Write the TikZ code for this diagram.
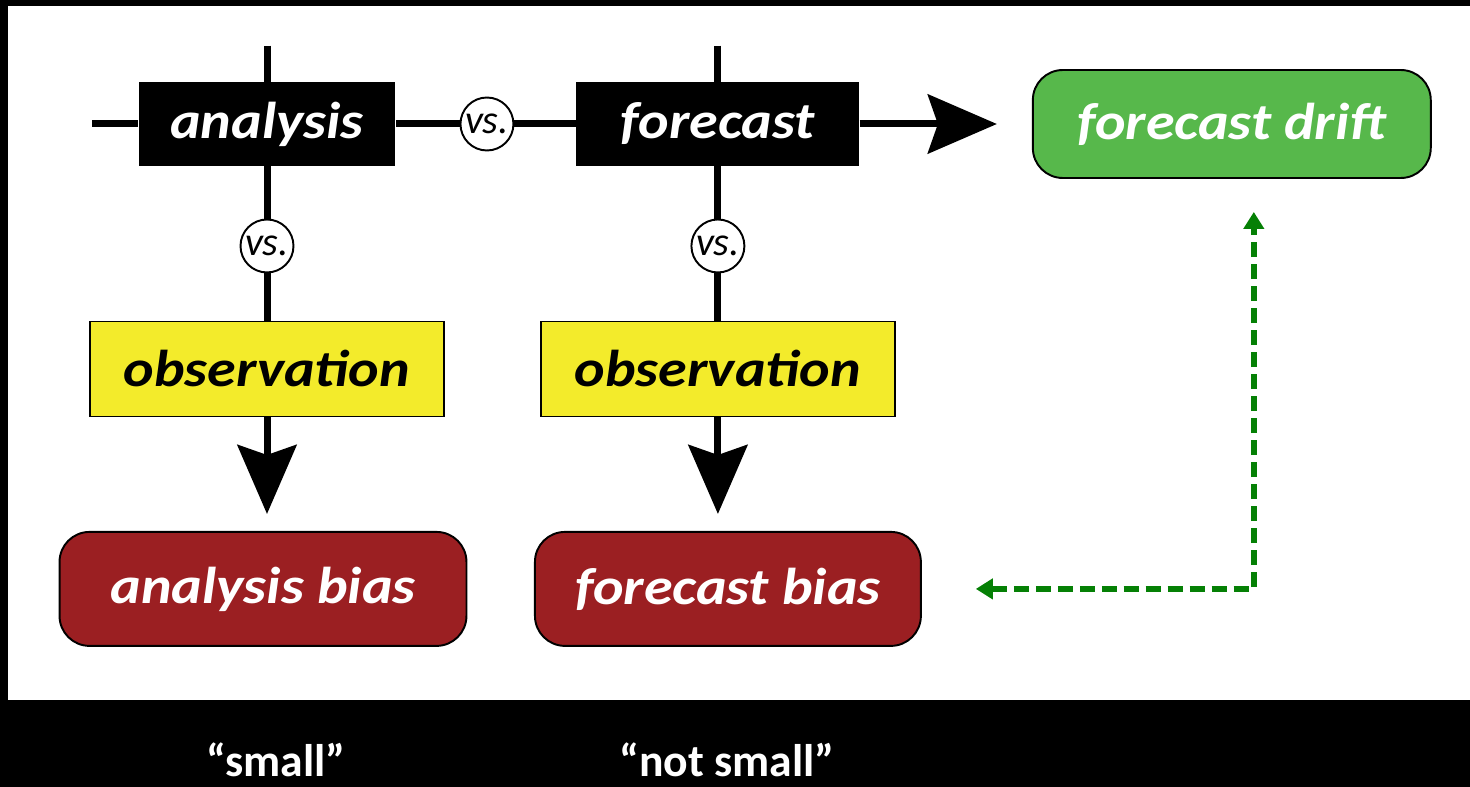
\documentclass[tikz,border=0pt]{standalone}
\usepackage{fontspec}
\setmainfont{Carlito}
\newfontfamily\boxfont[FakeStretch=1.12]{Carlito}
\usetikzlibrary{arrows.meta,positioning}
\newcommand{\largearrow}{-{Stealth[length=1.38cm,width=1.18cm,inset=0.2cm]}}
\definecolor{obsyellow}{RGB}{243,235,43}
\definecolor{biasred}{RGB}{155,31,34}
\definecolor{driftgreen}{RGB}{87,184,75}
\definecolor{linkgreen}{RGB}{5,128,5}
\tikzset{%
  % Specifications for style of nodes:
            base/.style = {rectangle, inner sep=0pt, text centered,
                           font=\boxfont\fontsize{29.5}{32}\selectfont\bfseries\itshape},
		stagestyle/.style = {base, fill=black, text=white, minimum height=1.68cm},
		obsstyle/.style = {base, fill=obsyellow, draw=black, line width=0.8pt,
                           minimum width=7.08cm, minimum height=1.9cm},
		biasstyle/.style = {base, fill=biasred, draw=black, line width=1.1pt,
                           text=white, rounded corners=0.6cm, minimum height=2.28cm},
		driftstyle/.style = {biasstyle, fill=driftgreen, minimum width=7.96cm,
                           minimum height=2.16cm},
		vsstyle/.style = {circle, draw=black, fill=white, line width=1.1pt,
                           minimum size=1.06cm, inner sep=0pt,
                           font=\fontsize{23}{24}\selectfont\itshape},
		flow/.style = {line width=0.14cm},
		link/.style = {draw=linkgreen, line width=0.11cm,
                           dash pattern=on 0.3cm off 0.14cm,
                           {Triangle[length=0.34cm,width=0.4cm]}-{Triangle[length=0.34cm,width=0.4cm]}},
		captionstyle/.style = {text=white, font=\fontsize{26}{28}\selectfont\bfseries},
}

\begin{document}
\begin{tikzpicture}[x=0.02cm, y=-0.02cm, node distance=4.9cm]
  \useasboundingbox (0,0) rectangle (1470,787);
  \fill[black] (0,0) rectangle (1470,787);
  \fill[white] (8,6) rectangle (1470,700);

  % Specification of nodes (position, etc.)
  \node (analysis)	[stagestyle, minimum width=5.14cm] at (267,124)	{analysis};
  \node (forecast)	[stagestyle, minimum width=5.66cm, right of=analysis, xshift=4.12cm]	{forecast};
  \node (drift)		[driftstyle, right of=forecast, xshift=5.38cm]	{forecast drift};
  \node (obsa)		[obsstyle, below of=analysis]	{observation};
  \node (obsf)		[obsstyle, below of=forecast]	{observation};
  \node (biasa)		[biasstyle, minimum width=8.14cm, below of=obsa, yshift=0.5cm, xshift=-0.08cm]	{analysis bias};
  \node (biasf)		[biasstyle, minimum width=7.72cm, below of=obsf, yshift=0.5cm, xshift=0.2cm]	{forecast bias};
  \node (vsh)		[vsstyle, right of=analysis, xshift=-0.5cm]	{vs.};
  \node (vsa)		[vsstyle, below of=analysis, yshift=2.46cm]	{vs.};
  \node (vsf)		[vsstyle, below of=forecast, yshift=2.46cm]	{vs.};
  \node (small)		[captionstyle] at (276,760)	{“small”};
  \node (notsmall)	[captionstyle] at (727,760)	{“not small”};

  % loose ends of the lines
  \coordinate [left=0.92cm of analysis]	(ain);
  \coordinate [above=0.72cm of analysis]	(atop);
  \coordinate [above=0.72cm of forecast]	(ftop);
  \coordinate [right=1.08cm of biasf]	(btip);
  \coordinate [below=0.66cm of drift, xshift=0.44cm]	(dtip);

  % Specification of lines between nodes specified above
	\draw[flow]	(ain) --	(analysis);
	\draw[flow]	(atop) --	(analysis);
	\draw[flow]	(ftop) --	(forecast);
	\draw[flow]	(analysis) --	(vsh);
	\draw[flow]	(vsh) --	(forecast);
	\draw[flow, \largearrow, shorten >=0.7cm]	(forecast) --	(drift);
	\draw[flow]	(analysis) --	(vsa);
	\draw[flow]	(vsa) --	(obsa);
	\draw[flow]	(forecast) --	(vsf);
	\draw[flow]	(vsf) --	(obsf);
	\draw[flow, \largearrow, shorten >=0.34cm]	(obsa) --	(obsa |- biasa.north);
	\draw[flow, \largearrow, shorten >=0.34cm]	(obsf) --	(obsf |- biasf.north);
	\draw[link]	(btip) -|	(dtip);
\end{tikzpicture}
\end{document}
